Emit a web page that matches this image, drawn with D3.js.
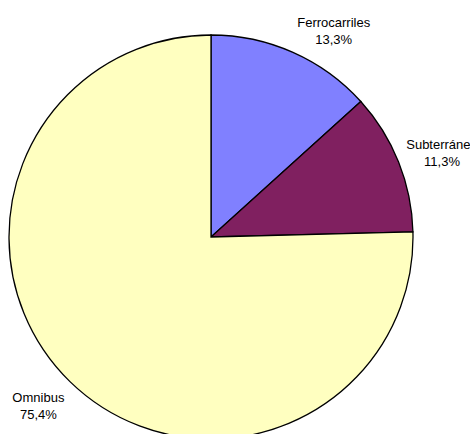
<!DOCTYPE html>
<html>
<head>
<meta charset="utf-8">
<script src="https://cdn.jsdelivr.net/npm/d3@7"></script>
<style>
  body { margin: 0; background: #fff; }
  text { font-family: "Liberation Sans", Arial, sans-serif; font-size: 13px; fill: #000; }
</style>
</head>
<body>
<div id="chart"></div>
<script>
// data
let categories = ['Ferrocarriles', 'Subterráneo', 'Omnibus'];
let shares = [13.3, 11.3, 75.4];
let shareLabels = ['13,3%', '11,3%', '75,4%'];
let colors = ['#8080ff', '#802060', '#ffffc0'];

let chart_width = 470;
let chart_height = 434;
let cx = 211, cy = 237, radius = 202;

let svg = d3.select('#chart')
            .append('svg')
            .attr('width', chart_width)
            .attr('height', chart_height);

let data = categories.map((c, i) => ({ name: c, value: shares[i], label: shareLabels[i], color: colors[i] }));

let pie = d3.pie()
            .sort(null)
            .value(d => d.value);

let arc = d3.arc()
            .innerRadius(0)
            .outerRadius(radius);

let g = svg.append('g')
           .attr('transform', 'translate(' + cx + ',' + cy + ')');

let arcs = pie(data);

g.selectAll('path')
  .data(arcs)
  .enter()
  .append('path')
  .attr('d', arc)
  .attr('fill', d => d.data.color)
  .attr('stroke', '#000')
  .attr('stroke-width', 1.3);

// labels: box put just outside the rim, on the side of the mid angle
let labelR = radius + 8;
let boxW = { 'Ferrocarriles': 75, 'Subterráneo': 72, 'Omnibus': 52 };
let boxH = 30;

let labels = g.selectAll('text.lbl')
  .data(arcs)
  .enter()
  .append('text')
  .attr('class', 'lbl')
  .attr('text-anchor', 'middle')
  .attr('transform', d => {
    let a = (d.startAngle + d.endAngle) / 2;
    let px = Math.sin(a) * labelR, py = -Math.cos(a) * labelR;
    let w = boxW[d.data.name];
    let x = px + Math.sign(Math.sin(a)) * w / 2;
    let y = py - Math.sign(Math.cos(a)) * boxH / 2;
    if (Math.abs(Math.cos(a)) < 0.5) y = py - Math.cos(a) * boxH * 0.6;
    if (Math.cos(a) < 0) y += 3;
    return 'translate(' + x + ',' + y + ')';
  });

labels.append('tspan')
  .attr('x', 0)
  .attr('y', -3)
  .text(d => d.data.name);

labels.append('tspan')
  .attr('x', 0)
  .attr('y', 14)
  .text(d => d.data.label);
</script>
</body>
</html>
